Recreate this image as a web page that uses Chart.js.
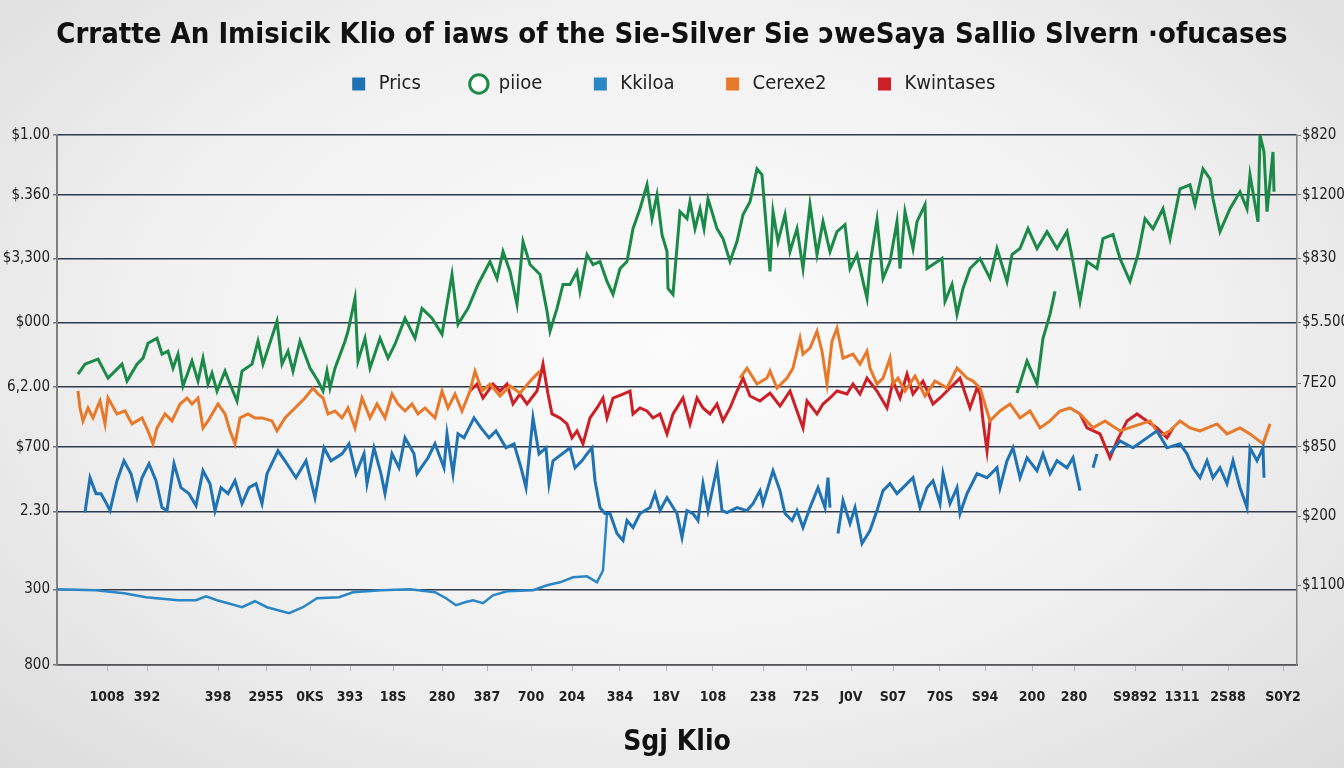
<!DOCTYPE html>
<html>
<head>
<meta charset="utf-8">
<script src="https://cdn.jsdelivr.net/npm/chart.js@4.4.1/dist/chart.umd.min.js"></script>
<style>
  html, body { margin: 0; padding: 0; }
  body {
    width: 1344px; height: 768px; overflow: hidden;
    background: radial-gradient(ellipse at 50% 45%, #fbfbfb 0%, #f1f1f1 55%, #dcdcdc 100%);
  }
  #wrap { position: relative; width: 1344px; height: 768px; }
</style>
</head>
<body>
<div id="wrap"><canvas id="silverChart" width="1344" height="768"></canvas></div>
<script>
// labels
const chartTitle = 'Crratte An Imisicik Klio of iaws of the Sie-Silver Sie ɔweSaya Sallio Slvern ·ofucases';
const xTitle = 'Sgj Klio';
const seriesNames = ['Prics', 'piioe', 'Kkiloa', 'Cerexe2', 'Kwintases'];

// x axis tick labels and where they sit (in days)
const xTickLabels = ['1008', '392', '398', '2955', '0KS', '393', '18S', '280', '387', '700', '204', '384', '18V',
  '108', '238', '725', 'J0V', 'S07', '70S', 'S94', '200', '280', 'S9892', '1311', '2S88', 'S0Y2'];
const xTickPos = [5.0, 9.0, 16.1, 20.9, 25.3, 29.3, 33.6, 38.5, 43.0, 47.4, 51.5, 56.3, 60.9,
  65.6, 70.6, 74.9, 79.4, 83.6, 88.3, 92.8, 97.5, 101.7, 107.8, 112.5, 117.1, 122.6];

// y axis ticks (left and right)
const yLeftLabels = ['800', '300', '2.30', '$700', '6,2.00', '$000', '$3,300', '$.360', '$1.00'];
const yLeftPos = [0, 7.6, 15.4, 21.9, 27.9, 34.4, 40.8, 47.2, 53.2];
const yRightLabels = ['$1100', '$200', '$850', '7E20', '$5.500', '$830', '$1200', '$820'];
const yRightPos = [8.0, 14.9, 21.9, 28.3, 34.4, 40.8, 47.2, 53.2];

// series values as [day, value]; null breaks the line
const pricsPts = [[2.8,15.3],[3.3,18.8],[3.9,17.2],[4.4,17.2],[4.9,16.3],[5.3,15.5],[6.0,18.5],[6.7,20.5],[7.4,19.2],
  [8.0,16.8],[8.5,18.8],[9.2,20.2],[9.9,18.5],[10.5,15.8],[11.0,15.5],[11.7,20.2],[12.4,17.8],[13.2,17.2],[13.9,16.0],
  [14.6,19.5],[15.3,18.2],[15.8,15.5],[16.4,17.8],[17.1,17.2],[17.8,18.5],[18.5,16.2],[19.2,17.8],[19.9,18.2],[20.5,16.2],
  [21.0,19.2],[22.1,21.5],[22.8,20.5],[23.9,18.8],[24.9,20.5],[25.8,16.8],[26.7,21.8],[27.4,20.5],[28.5,21.2],[29.2,22.2],
  [29.9,19.2],[30.7,21.2],[31.0,18.2],[31.7,21.8],[32.4,19.2],[32.8,17.2],[33.5,21.2],[34.2,19.8],[34.8,22.8],[35.7,21.2],
  [36.0,19.2],[37.1,20.8],[37.8,22.2],[38.7,19.8],[39.0,23.2],[39.6,19.2],[40.1,23.2],[40.7,22.8],[41.7,24.8],[42.4,23.8],
  [43.2,22.8],[43.9,23.5],[44.9,21.8],[45.7,22.2],[46.4,19.8],[46.9,17.8],[47.6,24.8],[48.2,21.2],[48.9,21.8],[49.2,18.2],
  [49.6,20.5],[51.3,21.8],[51.8,19.8],[52.5,20.5],[53.0,21.2],[53.5,21.8],[53.8,18.5],[54.3,15.8],[54.8,15.2],[55.3,15.2],
  [56.0,13.2],[56.6,12.5],[57.0,14.5],[57.6,13.8],[58.3,15.2],[59.3,15.8],[59.8,17.2],[60.3,15.5],[61.0,16.8],[62.0,15.2],
  [62.5,12.8],[63.0,15.5],[63.6,15.2],[64.1,14.5],[64.6,18.2],[65.1,15.5],[66.0,19.8],[66.5,15.5],[67.0,15.3],[68.0,15.8],
  [69.0,15.5],[69.6,16.2],[70.3,17.5],[70.6,16.2],[71.6,19.5],[72.3,17.5],[72.8,15.2],[73.5,14.5],[74.0,15.5],[74.6,13.8],
  [75.3,15.8],[76.1,17.8],[76.8,15.8],[77.1,18.8],[77.3,15.8],[77.7,null],[78.1,13.2],[78.6,16.5],[79.3,14.2],[79.8,15.8],
  [80.5,12.2],[81.3,13.5],[82.0,15.5],[82.6,17.5],[83.3,18.2],[84.0,17.2],[85.0,18.2],[85.6,18.8],[86.3,15.8],[87.0,17.8],
  [87.6,18.5],[88.3,16.2],[88.6,19.2],[89.3,16.2],[90.0,17.8],[90.3,15.2],[91.0,17.2],[92.0,19.2],[93.0,18.8],[94.0,19.8],
  [94.3,17.8],[95.0,20.5],[95.6,21.8],[96.3,18.8],[97.0,20.8],[98.0,19.5],[98.6,21.2],[99.3,19.2],[100.0,20.5],[101.0,19.8],
  [101.6,20.8],[102.3,17.5],[103.0,null],[103.6,19.8],[104.0,21.2],[104.6,null],[105.3,21.2],[106.3,22.5],[107.6,21.8],
  [109.0,22.8],[110.0,23.5],[111.0,21.8],[112.3,22.2],[113.0,21.2],[113.6,19.8],[114.3,18.8],[115.0,20.5],[115.6,18.8],
  [116.3,19.8],[117.0,18.2],[117.6,20.5],[118.3,17.8],[119.0,15.8],[119.3,21.8],[120.0,20.5],[120.6,21.8],[120.7,18.8]];

const piioePts = [[2.1,29.2],[2.8,30.2],[4.1,30.7],[5.1,28.8],[6.5,30.2],[7.0,28.5],[8.0,30.2],[8.6,30.8],[9.1,32.3],
  [10.0,32.8],[10.5,31.2],[11.1,31.5],[11.6,29.8],[12.1,31.2],[12.6,28.0],[13.5,30.5],[14.1,28.5],[14.6,30.8],[15.1,28.2],
  [15.5,29.3],[16.0,27.5],[16.8,29.5],[17.3,28.2],[18.0,26.5],[18.5,29.5],[19.5,30.2],[20.1,32.5],[20.6,30.2],[22.0,34.5],
  [22.5,30.2],[23.1,31.5],[23.6,29.5],[24.3,32.5],[25.3,29.8],[26.1,28.5],[26.6,27.5],[27.0,29.5],[27.3,27.8],[27.8,29.8],
  [28.8,32.5],[29.1,33.5],[29.8,36.8],[30.1,30.5],[30.8,32.8],[31.3,29.8],[32.3,32.8],[33.1,30.8],[33.8,32.2],[34.8,34.8],
  [35.8,32.8],[36.5,35.8],[37.5,34.8],[38.5,33.2],[39.5,39.2],[40.1,34.2],[41.1,35.8],[42.1,38.2],[43.3,40.5],[44.0,38.8],
  [44.6,41.5],[45.3,39.5],[46.0,36.2],[46.6,42.5],[47.3,40.2],[48.3,39.2],[49.0,35.5],[49.3,33.5],[50.0,35.8],[50.6,38.2],
  [51.3,38.2],[52.0,39.5],[52.3,37.5],[53.0,41.2],[53.6,40.2],[54.3,40.5],[55.0,38.5],[55.6,37.2],[56.3,39.8],[57.0,40.5],
  [57.6,43.8],[58.3,45.8],[59.0,48.2],[59.5,44.8],[60.0,47.2],[60.5,43.2],[61.0,41.5],[61.1,37.8],[61.6,37.2],[62.3,45.5],
  [63.0,44.8],[63.3,46.5],[63.8,43.8],[64.3,45.8],[64.7,43.8],[65.1,46.8],[66.0,43.8],[66.6,42.8],[67.3,40.5],[68.0,42.5],
  [68.6,45.2],[69.3,46.5],[70.0,49.8],[70.5,49.2],[70.8,45.5],[71.3,39.5],[71.6,45.5],[72.1,42.5],[72.8,45.2],[73.3,41.5],
  [74.0,43.8],[74.6,39.8],[75.3,46.2],[76.0,41.2],[76.6,44.5],[77.3,41.5],[78.0,43.5],[78.8,44.2],[79.3,39.8],[80.0,41.2],
  [80.6,38.5],[81.0,36.8],[81.3,40.2],[82.0,44.7],[82.6,38.8],[83.3,40.5],[84.0,44.5],[84.3,39.8],[84.8,45.5],[85.6,41.8],
  [86.0,44.5],[86.8,46.2],[87.0,39.8],[88.5,40.8],[88.8,36.5],[89.5,38.2],[90.0,35.2],[90.6,37.8],[91.3,39.8],[92.3,40.8],
  [93.3,38.8],[94.0,41.8],[95.0,38.5],[95.5,41.2],[96.3,41.8],[97.1,43.8],[98.0,41.8],[99.0,43.5],[100.0,41.8],[101.0,43.5],
  [101.6,40.5],[102.3,36.5],[103.0,40.5],[104.0,39.8],[104.6,42.8],[105.6,43.2],[106.3,40.8],[107.3,38.5],[108.1,41.2],
  [108.8,44.8],[109.6,43.8],[110.6,45.8],[111.3,42.8],[112.3,47.8],[113.3,48.2],[113.8,46.2],[114.6,49.8],[115.3,48.8],
  [115.6,46.8],[116.3,43.5],[117.3,45.8],[118.3,47.5],[119.0,45.8],[119.3,49.2],[120.1,44.5],[120.3,53.2],[120.7,51.5],
  [121.0,45.5],[121.6,51.5],[121.7,47.5],
  [121.8,null],[96.0,27.3],[97.0,30.5],[98.0,28.2],[98.6,32.8],[99.3,35.2],[99.8,37.5]];

const kkiloaPts = [[0,7.6],[3.9,7.5],[6.7,7.2],[8.9,6.8],[12.1,6.5],[13.9,6.5],[14.9,6.9],[16.0,6.5],[17.1,6.2],[18.5,5.8],
  [19.8,6.4],[21.0,5.8],[23.2,5.2],[24.6,5.8],[26.0,6.7],[28.2,6.8],[29.6,7.3],[32.4,7.5],[35.3,7.6],[37.8,7.3],[38.9,6.7],
  [39.9,6.0],[40.8,6.3],[41.6,6.5],[42.6,6.2],[43.6,7.0],[45.0,7.4],[47.6,7.5],[49.0,8.0],[50.3,8.3],[51.6,8.8],[53.0,8.9],
  [54.0,8.3],[54.6,9.5],[55.0,15.2]];

const cerexePts = [[2.1,27.5],[2.3,25.8],[2.6,24.5],[3.1,25.8],[3.6,24.8],[4.3,26.5],[4.8,24.2],[5.1,26.8],[6.0,25.2],
  [6.8,25.5],[7.5,24.2],[8.5,24.8],[9.1,23.5],[9.6,22.2],[10.0,23.8],[10.8,25.2],[11.5,24.5],[12.3,26.2],[13.0,26.8],
  [13.5,26.2],[14.1,26.8],[14.6,23.8],[15.1,24.5],[16.1,26.2],[16.8,25.2],[17.3,23.5],[17.8,22.2],[18.3,24.8],[19.1,25.2],
  [19.8,24.8],[20.5,24.8],[21.5,24.5],[22.0,23.5],[22.8,24.8],[23.8,25.8],[24.8,26.8],[25.6,27.8],[26.1,27.2],[26.6,26.8],
  [27.1,25.2],[27.8,25.5],[28.5,24.8],[29.1,25.8],[29.8,23.8],[30.5,26.8],[31.3,24.8],[32.0,26.2],[32.8,24.8],[33.5,27.2],
  [34.1,26.2],[34.8,25.5],[35.5,26.2],[36.1,25.2],[36.8,25.8],[37.8,24.8],[38.5,27.5],[39.1,25.8],[39.8,27.2],[40.5,25.5],
  [41.3,27.5],[41.8,29.5],[42.5,27.5],[43.3,28.2],[44.3,27.0],[45.3,28.0],[46.3,27.3],[47.6,28.8],[48.3,29.5],[50.0,null],
  [68.3,28.8],[69.0,29.8],[70.0,28.2],[71.0,28.8],[71.3,29.5],[72.0,27.8],[73.0,28.8],[73.6,29.8],[74.3,32.8],[74.6,31.2],
  [75.3,31.8],[76.0,33.5],[76.5,31.5],[77.0,28.2],[77.5,32.5],[78.0,33.8],[78.6,30.8],[79.6,31.2],[80.3,30.2],[81.0,31.5],
  [81.3,29.8],[82.0,28.2],[82.6,28.8],[83.3,30.8],[83.6,28.2],[84.1,28.8],[84.8,27.5],[85.8,29.0],[86.8,27.0],[87.8,28.5],
  [89.0,27.8],[90.0,29.8],[91.0,28.8],[91.6,28.5],[92.3,27.8],[93.3,24.5],[94.3,25.5],[95.3,26.2],[96.3,24.8],[97.3,25.5],
  [98.3,23.8],[99.3,24.5],[100.3,25.5],[101.3,25.8],[102.3,25.2],[103.6,23.8],[104.8,24.5],[106.3,23.5],[107.8,24.0],
  [109.3,24.5],[110.3,23.0],[111.3,23.5],[112.3,24.5],[113.3,23.8],[114.3,23.5],[116.0,24.2],[117.0,23.2],[118.3,23.8],
  [119.3,23.2],[120.6,22.2],[121.3,24.2]];

const kwintasesPts = [[41.3,27.5],[42.0,28.2],[42.6,26.8],[43.6,28.2],[44.3,27.5],[45.0,28.2],[45.6,26.2],[46.3,27.2],
  [47.0,26.2],[48.0,27.5],[48.6,30.2],[49.1,27.2],[49.5,25.2],[50.3,24.8],[51.0,24.2],[51.5,22.8],[52.0,23.5],[52.6,22.2],
  [53.3,24.8],[54.0,25.8],[54.6,26.8],[55.0,24.8],[55.6,26.8],[56.6,27.2],[57.3,27.5],[57.6,25.2],[58.3,25.8],[59.0,25.5],
  [59.6,24.8],[60.3,25.2],[61.0,23.2],[61.6,25.2],[62.6,26.8],[63.3,24.2],[64.0,26.8],[64.6,25.8],[65.3,25.2],[66.0,26.2],
  [66.6,24.5],[67.3,25.8],[68.0,27.5],[68.6,28.8],[69.3,27.0],[70.3,26.5],[71.3,27.3],[72.3,26.0],[73.3,27.5],[74.0,25.5],
  [74.6,23.8],[75.0,26.5],[76.0,25.2],[76.6,26.2],[77.3,26.8],[78.0,27.5],[79.0,27.2],[79.6,28.2],[80.3,27.2],[81.0,28.8],
  [82.0,27.5],[83.0,25.8],[83.6,28.5],[84.3,26.8],[85.0,29.2],[85.6,27.2],[86.6,28.5],[87.6,26.2],[88.3,26.8],[89.3,27.8],
  [90.3,28.8],[91.3,25.8],[92.0,27.8],[92.3,27.2],[92.6,24.5],[93.0,21.5],[93.3,24.5],[95.0,null],
  [102.3,25.2],[103.0,23.8],[104.3,23.2],[105.3,20.8],[106.0,22.5],[107.0,24.5],[108.0,25.2],[109.0,24.5],[110.0,23.8],
  [111.0,22.8],[111.6,23.8]];

const seriesPts = [pricsPts, piioePts, kkiloaPts, cerexePts, kwintasesPts];
const seriesColors = ['#1f72b3', '#1b8a48', '#2a86c4', '#e8782a', '#cc1f26'];
const pointStyles = ['rect', 'circle', 'rect', 'rect', 'rect'];
const lineWidths = [3, 3, 2.5, 3, 3];

const narrow = "'Liberation Sans Narrow', 'DejaVu Sans Condensed', 'Liberation Sans', Arial, sans-serif";

const datasets = seriesNames.map((name, i) => ({
  label: name,
  data: seriesPts[i].map(p => ({ x: p[0], y: p[1] })),
  borderColor: seriesColors[i],
  backgroundColor: name === 'piioe' ? '#ffffff' : seriesColors[i],
  borderWidth: lineWidths[i],
  pointRadius: 0,
  pointStyle: pointStyles[i],
  pointBorderWidth: name === 'piioe' ? 3 : 0,
  tension: 0,
  spanGaps: false,
  fill: false
}));

// empty box that keeps some room between the legend and the plot
const legendGap = {
  id: 'legendGap',
  beforeInit(chart) {
    Chart.layouts.addBox(chart, {
      position: 'top',
      weight: 500,
      fullSize: true,
      options: {},
      isHorizontal() { return true; },
      update(maxWidth) {
        this.width = maxWidth;
        this.height = 31;
      },
      draw() {}
    });
  }
};

new Chart(document.getElementById('silverChart'), {
  type: 'line',
  data: { datasets },
  plugins: [legendGap],
  options: {
    responsive: false,
    animation: false,
    layout: { padding: { top: 0, right: 0, bottom: 8, left: 0 } },
    plugins: {
      tooltip: { enabled: false },
      title: {
        display: true,
        text: chartTitle,
        color: '#111',
        font: { family: narrow, size: 29, weight: 'bold', lineHeight: 1.0 },
        padding: { top: 21, bottom: -24 }
      },
      legend: {
        display: true,
        position: 'top',
        labels: {
          usePointStyle: true,
          boxHeight: 13,
          color: '#222',
          font: { family: narrow, size: 20 },
          padding: 48
        }
      }
    },
    scales: {
      x: {
        type: 'linear',
        min: 0,
        max: 124,
        afterBuildTicks: s => { s.ticks = xTickPos.map(v => ({ value: v })); },
        afterFit: s => { s.height = 95; },
        ticks: {
          autoSkip: false,
          maxRotation: 0,
          padding: 18,
          color: '#222',
          font: { family: narrow, size: 14, weight: 'bold' },
          callback: (v, i) => xTickLabels[i]
        },
        grid: { drawOnChartArea: false, tickLength: 6, color: '#b5b5b5' },
        border: { color: '#555', width: 1.5 },
        title: {
          display: true,
          text: xTitle,
          color: '#111',
          font: { family: narrow, size: 28, weight: 'bold' },
          padding: { top: 10, bottom: 0 }
        }
      },
      y: {
        type: 'linear',
        position: 'left',
        min: 0,
        max: 53.2,
        afterBuildTicks: s => { s.ticks = yLeftPos.map(v => ({ value: v })); },
        afterFit: s => { s.width = 57; },
        ticks: {
          padding: 3,
          color: '#222',
          font: { family: narrow, size: 15 },
          callback: (v, i) => yLeftLabels[i]
        },
        grid: { color: '#2f3a4a', lineWidth: 1.5, tickLength: 4, tickColor: '#777' },
        border: { color: '#808080', width: 2 }
      },
      y2: {
        type: 'linear',
        position: 'right',
        min: 0,
        max: 53.2,
        afterBuildTicks: s => { s.ticks = yRightPos.map(v => ({ value: v })); },
        afterFit: s => { s.width = 47; },
        ticks: {
          padding: 1,
          color: '#222',
          font: { family: narrow, size: 15 },
          callback: (v, i) => yRightLabels[i]
        },
        grid: { drawOnChartArea: false, tickLength: 4, tickColor: '#777' },
        border: { color: '#808080', width: 1.5 }
      }
    }
  }
});
</script>
</body>
</html>
